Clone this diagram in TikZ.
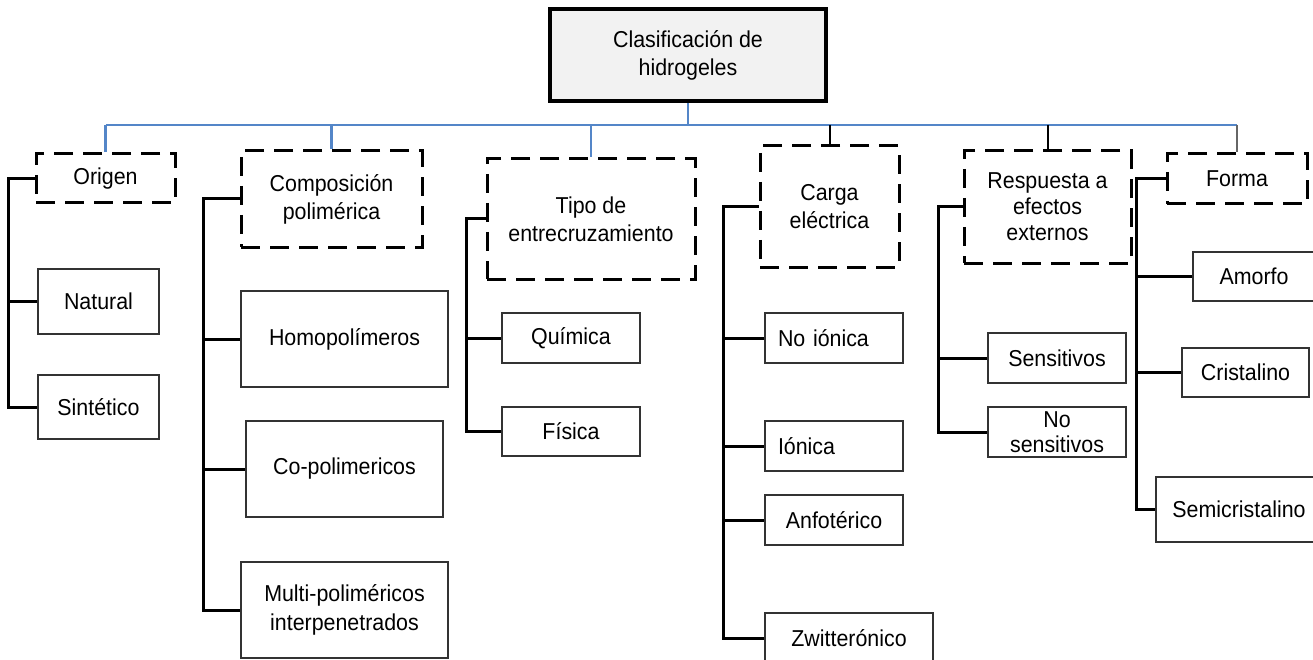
\documentclass[tikz,border=0pt]{standalone}
\usepackage{fontspec}
\setmainfont{Liberation Sans}[FakeStretch=0.93]
\usepackage{tikz}

\definecolor{busblue}{RGB}{84,134,200}
\definecolor{rootgray}{RGB}{242,242,242}

\begin{document}
\begin{tikzpicture}[
  x=1pt, y=-1pt,
  every node/.style={font=\fontsize{23}{28}\selectfont, align=center, inner sep=0pt},
  rootbox/.style={draw, line width=4pt, fill=rootgray, minimum width=276pt, minimum height=92pt},
  catbox/.style={draw, line width=3pt, dash pattern=on 19pt off 10pt},
  leafbox/.style={draw=black!80, line width=1.5pt},
  bus/.style={draw=busblue, line width=2.5pt},
  drop/.style={draw=black, line width=2pt},
  branch/.style={draw=black, line width=3pt}
]
\useasboundingbox (0,0) rectangle (1313,660);

% root and categories
\node[rootbox] (root) at (688,55) {Clasificación de\\hidrogeles};
\node[catbox, minimum width=139pt, minimum height=49pt] (origen) at (105.5,178.5) {Origen};
\node[catbox, minimum width=181pt, minimum height=96pt] (compo) at (331.5,199) {Composición\\polimérica};
\node[catbox, minimum width=208pt, minimum height=120pt] (tipo) at (591,219) {Tipo de\\entrecruzamiento};
\node[catbox, minimum width=139pt, minimum height=121pt] (carga) at (829.5,206.5) {Carga\\eléctrica};
\node[catbox, minimum width=167pt, minimum height=112pt, font=\fontsize{23}{26}\selectfont] (resp) at (1047.5,207) {Respuesta a\\efectos\\externos};
\node[catbox, minimum width=140pt, minimum height=50pt] (forma) at (1237,179) {Forma};

% leaves
\node[leafbox, minimum width=121pt, minimum height=65pt] (natural) at (98.5,301.5) {Natural};
\node[leafbox, minimum width=121pt, minimum height=64pt] (sintetico) at (98.5,407) {Sintético};
\node[leafbox, minimum width=207pt, minimum height=96pt] (homo) at (344.5,339) {Homopolímeros};
\node[leafbox, minimum width=197pt, minimum height=96pt] (copoli) at (344.5,469) {Co-polimericos};
\node[leafbox, minimum width=207pt, minimum height=96pt, font=\fontsize{23}{29}\selectfont] (multi) at (344.5,610) {Multi-poliméricos\\interpenetrados};
\node[leafbox, minimum width=138pt, minimum height=50pt] (quimica) at (571,338) {Química};
\node[leafbox, minimum width=138pt, minimum height=49pt] (fisica) at (571,431.5) {Física};
\node[leafbox, minimum height=50pt, inner xsep=13pt, text width=112pt, align=left] (noionica) at (834,338) {No iónica};
\node[leafbox, minimum height=50pt, inner xsep=13pt, text width=112pt, align=left] (ionica) at (834,446) {Iónica};
\node[leafbox, minimum width=138pt, minimum height=50pt] (anfo) at (834,520) {Anfotérico};
\node[leafbox, minimum width=168pt, minimum height=50pt] (zwitter) at (849,638) {Zwitterónico};
\node[leafbox, minimum width=138pt, minimum height=50pt] (sensi) at (1057,358) {Sensitivos};
\node[leafbox, minimum width=138pt, minimum height=50pt, font=\fontsize{23}{25}\selectfont] (nosensi) at (1057,432) {No\\sensitivos};
\node[leafbox, minimum width=122pt, minimum height=49pt] (amorfo) at (1254,276.5) {Amorfo};
\node[leafbox, minimum width=127pt, minimum height=49pt] (cristal) at (1245.5,372.5) {Cristalino};
\node[leafbox, minimum width=166pt, minimum height=65pt] (semi) at (1239,509.5) {Semicristalino};

% bus from the root
\coordinate (busline) at (692,125);
\draw[bus] (root.south) -- (root.south |- busline);
\draw[bus] (origen.north |- busline) -- (forma.north |- busline);
\foreach \c in {origen, compo, tipo}
  \draw[bus] (\c.north |- busline) -- (\c.north);
\foreach \c in {carga, resp}
  \draw[drop] (\c.north |- busline) -- (\c.north);
\draw[drop, black!60, line width=1.5pt] (forma.north |- busline) -- (forma.north);

% brackets
\coordinate (tOrigen) at ([xshift=-26pt]origen.west);
\coordinate (tCompo) at ([xshift=-36pt]compo.west);
\coordinate (tTipo) at ([xshift=-19pt]tipo.west);
\coordinate (tCarga) at ([xshift=-35pt]carga.west);
\coordinate (tResp) at ([xshift=-24pt]resp.west);
\coordinate (tForma) at ([xshift=-29pt]forma.west);

\draw[branch] (origen.west) -- (tOrigen) |- (sintetico.west);
\draw[branch] (tOrigen |- natural.west) -- (natural.west);

\draw[branch] (compo.west) -- (tCompo) |- (multi.west);
\foreach \c in {homo, copoli}
  \draw[branch] (tCompo |- \c.west) -- (\c.west);

\draw[branch] (tipo.west) -- (tTipo) |- (fisica.west);
\draw[branch] (tTipo |- quimica.west) -- (quimica.west);

\draw[branch] (carga.west) -- (tCarga) |- (zwitter.west);
\foreach \c in {noionica, ionica, anfo}
  \draw[branch] (tCarga |- \c.west) -- (\c.west);

\draw[branch] (resp.west) -- (tResp) |- (nosensi.west);
\draw[branch] (tResp |- sensi.west) -- (sensi.west);

\draw[branch] (forma.west) -- (tForma) |- (semi.west);
\foreach \c in {amorfo, cristal}
  \draw[branch] (tForma |- \c.west) -- (\c.west);
\end{tikzpicture}
\end{document}
